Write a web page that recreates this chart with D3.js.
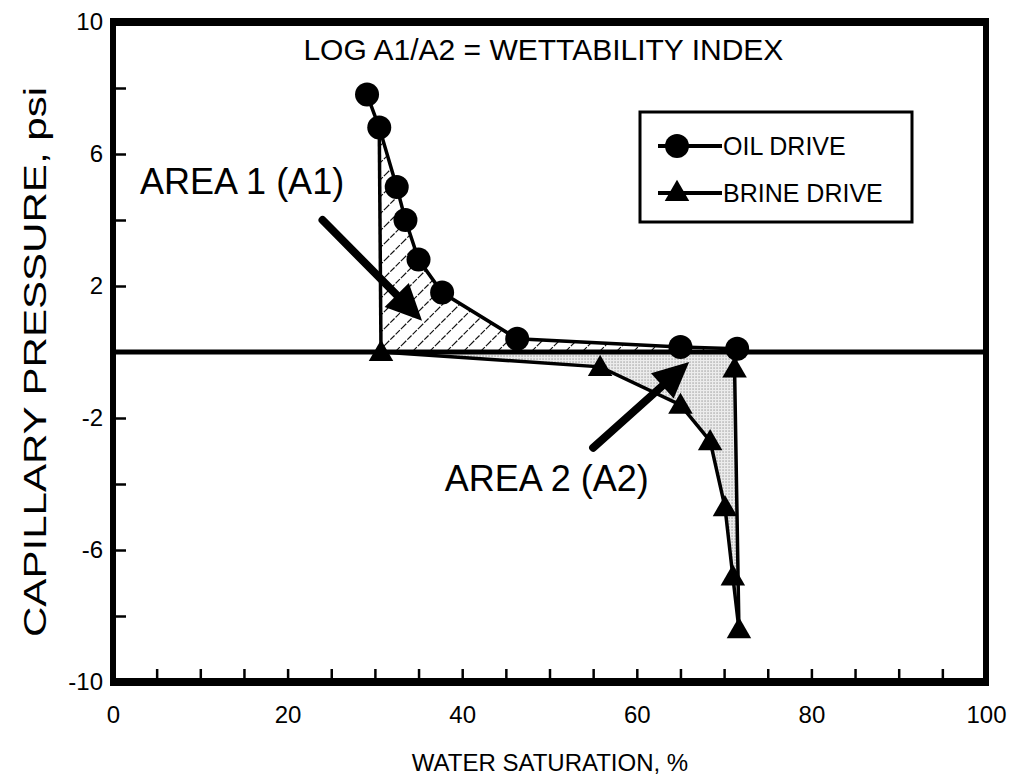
<!DOCTYPE html>
<html>
<head>
<meta charset="utf-8">
<script src="https://cdn.jsdelivr.net/npm/d3@7"></script>
<style>
  body { margin: 0; background: #fff; }
  svg { display: block; font-family: "Liberation Sans", Arial, Helvetica, sans-serif; }
</style>
</head>
<body>
<script>
// oil drive (drainage) points, high Sw -> low Sw
const oilSw = [71.5, 65.0, 46.3, 37.7, 35.0, 33.5, 32.5, 30.5, 29.1];
const oilPc = [0.1, 0.15, 0.4, 1.8, 2.8, 4.0, 5.0, 6.8, 7.8];
// brine drive (imbibition) points
const brineSw = [30.7, 55.8, 65.0, 68.4, 70.1, 71.0, 71.7];
const brinePc = [0.0, -0.45, -1.6, -2.7, -4.7, -6.8, -8.4];
// brine drive return up to Pc = 0
const returnSw = [71.2];
const returnPc = [-0.5];

const xTicks = d3.range(0, 101, 5);
const xLabels = [0, 20, 40, 60, 80, 100];
const yTicks = d3.range(-10, 11, 2);
const yLabels = [10, 6, 2, -2, -6, -10];

const seriesNames = ["OIL DRIVE", "BRINE DRIVE"];
const titleText = "LOG A1/A2 = WETTABILITY INDEX";
const xTitle = "WATER SATURATION, %";
const yTitle = "CAPILLARY PRESSURE, psi";

const margin = { top: 22, right: 25, bottom: 95, left: 113 },
      W = 1011, H = 777,
      width = W - margin.left - margin.right,
      height = H - margin.top - margin.bottom;

const svg = d3.select("body").append("svg")
    .attr("width", W)
    .attr("height", H);

const defs = svg.append("defs");
// hatch for area 1
const hatch = defs.append("pattern")
    .attr("id", "hatch")
    .attr("patternUnits", "userSpaceOnUse")
    .attr("width", 17).attr("height", 17);
hatch.append("path")
    .attr("d", "M0,17 L17,0 M-3,3 L3,-3 M14,20 L20,14")
    .attr("stroke", "#111")
    .attr("stroke-width", 1.2)
    .attr("stroke-dasharray", "6,1.5");
// stipple for area 2
const dots = defs.append("pattern")
    .attr("id", "dots")
    .attr("patternUnits", "userSpaceOnUse")
    .attr("width", 3).attr("height", 3);
dots.append("rect").attr("width", 3).attr("height", 3).attr("fill", "#ececec");
dots.append("rect").attr("x", 0.5).attr("y", 0.5).attr("width", 1.1).attr("height", 1.1).attr("fill", "#808080");

const g = svg.append("g")
    .attr("transform", "translate(" + margin.left + "," + margin.top + ")");

const x = d3.scaleLinear().domain([0, 100]).range([0, width]);
const y = d3.scaleLinear().domain([-10, 10]).range([height, 0]);

const oil = oilSw.map((s, i) => [s, oilPc[i]]);
const brine = brineSw.map((s, i) => [s, brinePc[i]]);
const ret = returnSw.map((s, i) => [s, returnPc[i]]);

const line = d3.line().x(d => x(d[0])).y(d => y(d[1]));

// area 1: between oil curve and zero line, right of the imbibition jump
const a1 = oil.filter(d => d[0] >= brine[0][0] - 0.3);
const area1 = [[brine[0][0], 0], ...a1.slice().reverse(), [oil[0][0], 0]];
g.append("path")
    .attr("d", line(area1) + "Z")
    .attr("fill", "url(#hatch)");

// area 2: between zero line and brine curve
const area2 = [...brine, ...ret, [oil[0][0], 0]];
g.append("path")
    .attr("d", line(area2) + "Z")
    .attr("fill", "url(#dots)");

// axes (ticks inward)
const xAxis = g.append("g")
    .attr("transform", "translate(0," + height + ")")
    .call(d3.axisBottom(x).tickValues(xTicks).tickSize(-13).tickPadding(24)
      .tickFormat(d => xLabels.includes(d) ? String(d) : ""));
const yAxis = g.append("g")
    .call(d3.axisLeft(y).tickValues(yTicks).tickSize(-13).tickPadding(10)
      .tickFormat(d => yLabels.includes(d) ? String(d) : ""));
[xAxis, yAxis].forEach(a => {
  a.select(".domain").remove();
  a.selectAll(".tick line").attr("stroke", "#000").attr("stroke-width", 2.5);
  a.selectAll(".tick text").attr("fill", "#000").attr("font-size", 24)
    .attr("font-family", "\"Liberation Sans\", Arial, sans-serif");
});

// zero line
g.append("line")
    .attr("x1", 0).attr("x2", width)
    .attr("y1", y(0)).attr("y2", y(0))
    .attr("stroke", "#000").attr("stroke-width", 5);

// curves
const curve = d => g.append("path").attr("d", line(d))
    .attr("fill", "none").attr("stroke", "#000").attr("stroke-width", 3.5);
curve(oil);
curve([oil[oil.length - 2], brine[0]]);
curve(brine);
curve([brine[brine.length - 1], ...ret, oil[0]]);

// markers
const tri = d3.symbol().type(d3.symbolTriangle).size(260);
g.selectAll(".brine-pt")
  .data([...brine, ...ret])
  .enter().append("path")
    .attr("class", "brine-pt")
    .attr("d", tri)
    .attr("transform", d => "translate(" + x(d[0]) + "," + (y(d[1]) + 2) + ")")
    .attr("fill", "#000");
g.selectAll(".oil-pt")
  .data(oil)
  .enter().append("circle")
    .attr("class", "oil-pt")
    .attr("cx", d => x(d[0]))
    .attr("cy", d => y(d[1]))
    .attr("r", 12)
    .attr("fill", "#000");

// frame: heavier top and bottom
g.append("rect")
    .attr("x", 0).attr("y", 0)
    .attr("width", width).attr("height", height)
    .attr("fill", "none").attr("stroke", "#000").attr("stroke-width", 6);
[0, height].forEach(v => g.append("line")
    .attr("x1", -3).attr("x2", width + 3).attr("y1", v).attr("y2", v)
    .attr("stroke", "#000").attr("stroke-width", 8));

// arrows pointing at the areas (data units)
const arrows = [
  { from: [24.0, 4.0], to: [35.4, 0.95] },
  { from: [55.0, -2.9], to: [66.0, -0.3] }
];
arrows.forEach(a => {
  const x0 = x(a.from[0]), y0 = y(a.from[1]), x1 = x(a.to[0]), y1 = y(a.to[1]);
  const ang = Math.atan2(y1 - y0, x1 - x0);
  const hl = 36, hw = 17;
  const bx = x1 - hl * Math.cos(ang), by = y1 - hl * Math.sin(ang);
  g.append("line")
      .attr("x1", x0).attr("y1", y0).attr("x2", bx).attr("y2", by)
      .attr("stroke", "#000").attr("stroke-width", 8).attr("stroke-linecap", "round");
  const px = -Math.sin(ang) * hw, py = Math.cos(ang) * hw;
  g.append("path")
      .attr("d", "M" + x1 + "," + y1 + "L" + (bx + px) + "," + (by + py) + "L" + (bx - px) + "," + (by - py) + "Z")
      .attr("fill", "#000");
});

// texts
g.append("text")
    .attr("x", x(49.3)).attr("y", y(8.85))
    .attr("text-anchor", "middle").attr("font-size", 30)
    .text(titleText);
g.append("text")
    .attr("x", x(3.1)).attr("y", y(4.8))
    .attr("font-size", 36)
    .text("AREA 1 (A1)");
g.append("text")
    .attr("x", x(38.0)).attr("y", y(-4.2))
    .attr("font-size", 36)
    .text("AREA 2 (A2)");

// legend
const lg = svg.append("g").attr("transform", "translate(640,112)");
lg.append("rect")
    .attr("width", 272).attr("height", 110)
    .attr("fill", "#fff").attr("stroke", "#000").attr("stroke-width", 3);
const items = lg.selectAll(".item")
  .data(seriesNames)
  .enter().append("g")
    .attr("transform", (d, i) => "translate(0," + (34 + i * 47) + ")");
items.append("line")
    .attr("x1", 18).attr("x2", 82)
    .attr("stroke", "#000").attr("stroke-width", 4);
items.filter((d, i) => i === 0).append("circle")
    .attr("cx", 37).attr("r", 12).attr("fill", "#000");
items.filter((d, i) => i === 1).append("path")
    .attr("d", tri).attr("transform", "translate(37,1)").attr("fill", "#000");
items.append("text")
    .attr("x", 83).attr("y", 9)
    .attr("font-size", 25)
    .text(d => d);

// axis titles
svg.append("text")
    .attr("x", 550).attr("y", 771)
    .attr("text-anchor", "middle").attr("font-size", 24)
    .text(xTitle);
svg.append("text")
    .attr("transform", "translate(46,362) rotate(-90)")
    .attr("text-anchor", "middle").attr("font-size", 32)
    .attr("textLength", 550).attr("lengthAdjust", "spacingAndGlyphs")
    .text(yTitle);
</script>
</body>
</html>
